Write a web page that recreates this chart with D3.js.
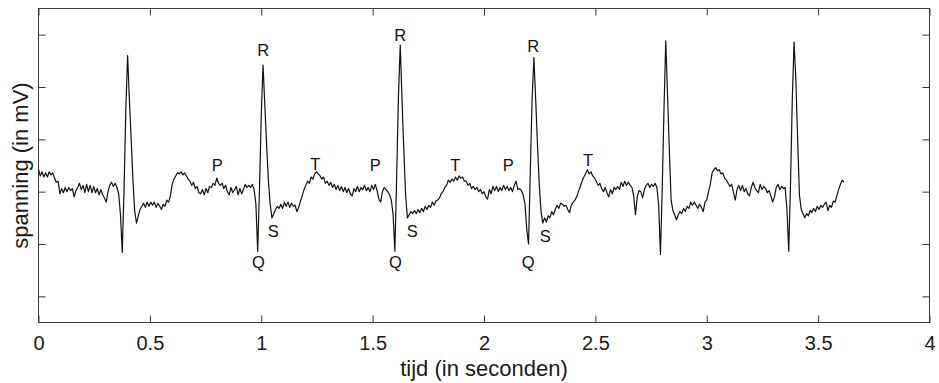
<!DOCTYPE html>
<html>
<head>
<meta charset="utf-8">
<script src="https://cdn.jsdelivr.net/npm/d3@7"></script>
<style>
  html, body { margin: 0; padding: 0; background: #ffffff; }
  svg { display: block; font-family: "Liberation Sans", Arial, Helvetica, sans-serif; }
</style>
</head>
<body>
<svg id="chart" width="939" height="383"></svg>
<script>
// ECG recording, one sample every 8 ms (values in mV)
const sampleInterval = 0.008;
const voltage = [
  0.21,0.15,0.19,0.14,0.18,0.14,0.19,0.16,0.18,0.13,0.09,0.10,-0.02,0.03,-0.01,0.04,0.00,0.04,0.01,0.03,-0.05,0.01,0.04,0.08,0.02,
  0.06,-0.01,0.07,0.00,0.06,-0.01,0.05,-0.01,0.03,-0.03,0.02,-0.03,-0.06,-0.10,0.00,0.06,0.09,0.05,0.08,0.04,-0.02,-0.22,-0.58,0.02,0.78,
  1.30,0.88,0.50,0.11,-0.19,-0.30,-0.23,-0.17,-0.14,-0.11,-0.15,-0.10,-0.14,-0.10,-0.13,-0.10,-0.15,-0.11,-0.14,-0.17,-0.12,-0.14,-0.08,-0.10,-0.04,
  0.07,0.12,0.15,0.18,0.17,0.19,0.16,0.18,0.15,0.12,0.10,0.06,0.09,0.03,0.05,-0.01,-0.02,0.02,-0.03,0.03,-0.01,0.05,0.04,0.08,0.06,
  0.13,0.08,0.06,0.08,0.03,0.06,0.00,-0.03,0.04,-0.01,0.02,0.05,-0.03,0.03,-0.02,0.02,0.07,0.04,0.06,0.04,0.07,0.02,-0.12,-0.57,0.02,
  0.73,1.21,0.83,0.45,0.11,-0.12,-0.25,-0.21,-0.17,-0.14,-0.16,-0.12,-0.16,-0.10,-0.14,-0.10,-0.15,-0.11,-0.14,-0.13,-0.19,-0.15,-0.09,-0.04,0.02,
  0.06,0.10,0.08,0.14,0.12,0.17,0.19,0.17,0.15,0.12,0.14,0.08,0.10,0.06,0.09,0.04,0.07,0.02,0.06,0.01,0.05,0.00,0.04,-0.01,0.03,
  -0.02,-0.04,0.03,0.00,0.05,0.00,0.04,0.02,0.06,0.01,0.04,0.00,0.06,0.02,0.07,0.01,-0.07,-0.10,0.00,0.04,0.02,0.00,-0.03,-0.08,-0.22,
  -0.57,0.16,0.92,1.40,0.88,0.40,-0.03,-0.25,-0.22,-0.19,-0.21,-0.18,-0.21,-0.17,-0.20,-0.16,-0.19,-0.14,-0.17,-0.13,-0.15,-0.10,-0.13,-0.09,-0.08,
  -0.06,-0.02,0.00,0.04,0.06,0.11,0.09,0.12,0.10,0.14,0.11,0.15,0.13,0.14,0.10,0.10,0.06,0.08,0.03,0.05,0.02,0.04,0.00,0.02,-0.02,
  0.00,-0.05,-0.07,0.02,-0.02,0.05,0.01,0.05,0.00,0.04,0.01,0.06,0.02,0.05,0.01,0.04,0.00,0.06,0.10,0.02,0.03,0.01,-0.03,-0.12,-0.36,
  -0.50,0.21,0.88,1.28,0.88,0.45,0.07,-0.19,-0.30,-0.25,-0.29,-0.23,-0.25,-0.19,-0.22,-0.17,-0.13,-0.16,-0.11,-0.12,-0.14,-0.13,-0.17,-0.20,-0.13,
  -0.10,-0.08,-0.05,0.00,0.05,0.10,0.14,0.17,0.21,0.17,0.19,0.15,0.13,0.10,0.06,0.08,0.03,0.00,0.04,-0.01,-0.05,0.02,-0.02,0.04,0.02,
  0.05,0.02,0.09,0.05,0.10,0.06,0.09,0.06,0.04,-0.04,-0.22,-0.05,0.01,0.00,-0.06,0.02,0.06,0.08,0.04,0.07,0.05,0.08,0.04,-0.12,-0.60,
  0.02,0.78,1.44,0.92,0.40,-0.08,-0.18,-0.22,-0.27,-0.22,-0.19,-0.21,-0.16,-0.19,-0.14,-0.16,-0.10,-0.13,-0.10,-0.13,-0.16,-0.12,-0.15,-0.19,-0.10,
  -0.08,0.00,0.07,0.18,0.21,0.23,0.20,0.21,0.17,0.18,0.13,0.11,0.08,0.05,0.07,-0.01,-0.08,0.02,0.06,0.01,0.06,0.00,0.03,-0.02,-0.04,
  0.04,0.09,0.04,0.01,-0.01,0.07,0.02,0.05,0.03,-0.01,0.01,-0.04,-0.10,-0.05,0.04,0.07,0.02,0.05,0.03,0.04,-0.17,-0.57,0.07,0.88,1.43,
  1.07,0.50,-0.03,-0.17,-0.21,-0.25,-0.21,-0.23,-0.18,-0.20,-0.16,-0.19,-0.14,-0.17,-0.13,-0.15,-0.12,-0.10,-0.18,-0.13,-0.15,-0.09,-0.10,-0.04,0.02,
  0.07,0.11,0.09
];

// Axis ticks
const xTicks = [0, 0.5, 1, 1.5, 2, 2.5, 3, 3.5, 4];
const yTicks = [-1, -0.5, 0, 0.5, 1, 1.5];

// Wave annotations: name, time (s) and level (mV) of each label
const waveNames = ["P", "R", "Q", "S", "T",  "P", "R", "Q", "S", "T",  "P", "R", "Q", "S", "T"];
const waveTimes = [0.803, 1.009, 0.987, 1.054, 1.243,  1.512, 1.624, 1.602, 1.678, 1.871,  2.109, 2.221, 2.198, 2.275, 2.467];
const waveLevels = [0.20, 1.30, -0.73, -0.43, 0.21,  0.20, 1.44, -0.73, -0.43, 0.20,  0.20, 1.33, -0.73, -0.48, 0.25];

const W = 939, H = 383;
const plot = { left: 38.5, right: 929.5, top: 8.5, bottom: 322.5 };

const svg = d3.select("#chart");
svg.append("rect").attr("width", W).attr("height", H).attr("fill", "#ffffff");

const x = d3.scaleLinear().domain([0, 4]).range([plot.left, plot.right]);
const y = d3.scaleLinear().domain([-1.25, 1.75]).range([plot.bottom, plot.top]);

const axisColor = "#3a3a3a";
const tick = 7;

function styleAxis(g) {
  g.select(".domain").remove();
  g.selectAll(".tick line").attr("stroke", axisColor).attr("stroke-width", 1);
  g.selectAll(".tick text").attr("fill", "#1a1a1a").attr("font-size", 20)
    .attr("font-family", "'Liberation Sans', Arial, Helvetica, sans-serif");
}

svg.append("g").attr("transform", `translate(0,${plot.bottom})`)
  .call(d3.axisBottom(x).tickValues(xTicks).tickSizeInner(-tick).tickSizeOuter(0)
    .tickPadding(13).tickFormat(d => String(d)))
  .call(styleAxis);

svg.append("g").attr("transform", `translate(0,${plot.top})`)
  .call(d3.axisTop(x).tickValues(xTicks).tickSizeInner(-tick).tickSizeOuter(0).tickFormat(""))
  .call(styleAxis);

svg.append("g").attr("transform", `translate(${plot.left},0)`)
  .call(d3.axisLeft(y).tickValues(yTicks).tickSizeInner(-tick).tickSizeOuter(0).tickFormat(""))
  .call(styleAxis);

svg.append("g").attr("transform", `translate(${plot.right},0)`)
  .call(d3.axisRight(y).tickValues(yTicks).tickSizeInner(-tick).tickSizeOuter(0).tickFormat(""))
  .call(styleAxis);

// Frame
svg.append("rect")
  .attr("x", plot.left).attr("y", plot.top)
  .attr("width", plot.right - plot.left).attr("height", plot.bottom - plot.top)
  .attr("fill", "none").attr("stroke", axisColor).attr("stroke-width", 1);

// ECG trace
const line = d3.line()
  .x((d, i) => x(i * sampleInterval))
  .y(d => y(d));

svg.append("path")
  .datum(voltage)
  .attr("d", line)
  .attr("fill", "none")
  .attr("stroke", "#111111")
  .attr("stroke-width", 1.2)
  .attr("stroke-linejoin", "round");

// P, Q, R, S, T labels
svg.append("g").selectAll("text")
  .data(waveNames)
  .join("text")
  .attr("x", (d, i) => x(waveTimes[i]))
  .attr("y", (d, i) => y(waveLevels[i]))
  .attr("text-anchor", "middle")
  .attr("font-size", 16.5)
  .attr("fill", "#111111")
  .text(d => d);

// Axis titles
svg.append("text")
  .attr("x", (plot.left + plot.right) / 2).attr("y", 376)
  .attr("text-anchor", "middle").attr("font-size", 22).attr("fill", "#1a1a1a")
  .text("tijd (in seconden)");

svg.append("text")
  .attr("transform", `translate(28,${(plot.top + plot.bottom) / 2}) rotate(-90)`)
  .attr("text-anchor", "middle").attr("font-size", 22).attr("fill", "#1a1a1a")
  .text("spanning (in mV)");
</script>
</body>
</html>
